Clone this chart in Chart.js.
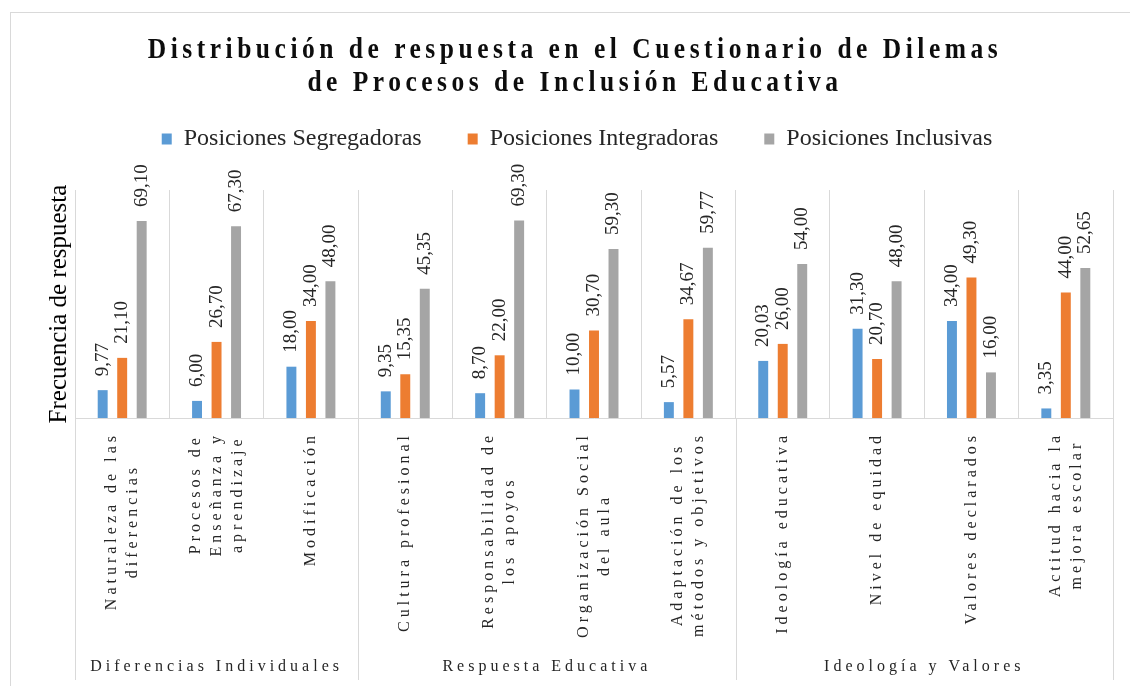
<!DOCTYPE html>
<html>
<head>
<meta charset="utf-8">
<script src="https://cdn.jsdelivr.net/npm/chart.js@4.4.1/dist/chart.umd.min.js"></script>
<style>
  html, body { margin: 0; padding: 0; background: #fff; }
</style>
</head>
<body>
<canvas id="grafico" width="1130" height="686"></canvas>
<script>
// Textos
const tituloLineas = ["Distribución de respuesta en el Cuestionario de Dilemas", "de Procesos de Inclusión Educativa"];
const tituloEjeY = "Frecuencia de respuesta";

// Categorías (una línea por elemento) y grupos del eje X
const categorias = [
  ["Naturaleza de las", "diferencias"],
  ["Procesos de", "Enseñanza y", "aprendizaje"],
  ["Modificación"],
  ["Cultura profesional"],
  ["Responsabilidad de", "los apoyos"],
  ["Organización Social", "del aula"],
  ["Adaptación de los", "métodos y objetivos"],
  ["Ideología educativa"],
  ["Nivel de equidad"],
  ["Valores declarados"],
  ["Actitud hacia la", "mejora escolar"]
];
const grupos = ["Diferencias Individuales", "Respuesta Educativa", "Ideología y Valores"];
const categoriasPorGrupo = [3, 4, 4];

// Series
const nombresSeries = ["Posiciones Segregadoras", "Posiciones Integradoras", "Posiciones Inclusivas"];
const segregadoras = [9.77, 6.00, 18.00, 9.35, 8.70, 10.00, 5.57, 20.03, 31.30, 34.00, 3.35];
const integradoras = [21.10, 26.70, 34.00, 15.35, 22.00, 30.70, 34.67, 26.00, 20.70, 49.30, 44.00];
const inclusivas = [69.10, 67.30, 48.00, 45.35, 69.30, 59.30, 59.77, 54.00, 48.00, 16.00, 52.65];
const colores = ["#5b9bd5", "#ed7d31", "#a5a5a5"];

const fuente = '"Liberation Serif", "Times New Roman", serif';
const gris = "#d9d9d9";

// Marco y fondo
const marco = {
  id: "marco",
  beforeDraw(chart) {
    const ctx = chart.ctx;
    ctx.save();
    ctx.fillStyle = "#fff";
    ctx.fillRect(0, 0, chart.width, chart.height);
    ctx.strokeStyle = gris;
    ctx.lineWidth = 1;
    ctx.strokeRect(10.5, 12.5, chart.width, chart.height);
    ctx.restore();
  }
};

// Título con espaciado entre letras
const titulo = {
  id: "titulo",
  afterDraw(chart) {
    const ctx = chart.ctx;
    ctx.save();
    ctx.fillStyle = "#0d0d0d";
    ctx.font = "bold 30px " + fuente;
    ctx.letterSpacing = "5.3px";
    ctx.textAlign = "center";
    ctx.textBaseline = "alphabetic";
    tituloLineas.forEach((linea, i) => {
      ctx.save();
      ctx.translate(575, 58 + i * 33);
      ctx.scale(0.85, 1);
      ctx.fillText(linea, 0, 0);
      ctx.restore();
    });
    ctx.restore();
  }
};

// Valores encima de cada barra (rotados)
const etiquetas = {
  id: "etiquetas",
  afterDatasetsDraw(chart) {
    const ctx = chart.ctx;
    ctx.save();
    ctx.fillStyle = "#262626";
    ctx.font = "19px " + fuente;
    ctx.textAlign = "left";
    ctx.textBaseline = "middle";
    chart.data.datasets.forEach((ds, d) => {
      chart.getDatasetMeta(d).data.forEach((barra, i) => {
        const texto = ds.data[i].toFixed(2).replace(".", ",");
        ctx.save();
        ctx.translate(barra.x, barra.y - 14);
        ctx.rotate(-Math.PI / 2);
        ctx.fillText(texto, 0, 0);
        ctx.restore();
      });
    });
    ctx.restore();
  }
};

// Etiquetas de categoría, grupos y divisores bajo el eje
const ejeCategorias = {
  id: "ejeCategorias",
  afterDraw(chart) {
    const { ctx, chartArea } = chart;
    const x = chart.scales.x;
    const ancho = x.width / categorias.length;
    ctx.save();
    ctx.fillStyle = "#262626";
    ctx.font = "16px " + fuente;
    ctx.letterSpacing = "4px";
    ctx.textAlign = "center";
    ctx.textBaseline = "middle";
    const inicio = chartArea.bottom + 14;
    categorias.forEach((lineas, i) => {
      const cx = x.getPixelForValue(i);
      const largo = Math.max(...lineas.map(l => ctx.measureText(l).width));
      lineas.forEach((l, k) => {
        ctx.save();
        ctx.translate(cx + (k - (lineas.length - 1) / 2) * 21, inicio + largo / 2);
        ctx.rotate(-Math.PI / 2);
        ctx.fillText(l, 0, 0);
        ctx.restore();
      });
    });

    const limites = [x.getPixelForValue(0) - ancho / 2];
    let idx = 0;
    grupos.forEach((g, j) => {
      const a = x.getPixelForValue(idx) - ancho / 2;
      idx += categoriasPorGrupo[j];
      const b = x.getPixelForValue(idx - 1) + ancho / 2;
      ctx.fillText(g, (a + b) / 2, 667);
      limites.push(b);
    });

    ctx.strokeStyle = gris;
    ctx.lineWidth = 1;
    limites.forEach(px => {
      const xx = Math.round(px) + 0.5;
      ctx.beginPath();
      ctx.moveTo(xx, chartArea.bottom);
      ctx.lineTo(xx, 680);
      ctx.stroke();
    });
    ctx.restore();
  }
};

// Espacio extra bajo la leyenda
const margenLeyenda = {
  id: "margenLeyenda",
  beforeLayout(chart) {
    const lg = chart.legend;
    if (lg && !lg._parcheado) {
      const fitOriginal = lg.fit;
      lg.fit = function () {
        fitOriginal.call(this);
        this.height += 29;
      };
      lg._parcheado = true;
    }
  }
};

const ctx = document.getElementById("grafico").getContext("2d");

new Chart(ctx, {
  type: "bar",
  data: {
    labels: categorias,
    datasets: nombresSeries.map((nombre, i) => ({
      label: nombre,
      data: [segregadoras, integradoras, inclusivas][i],
      backgroundColor: colores[i],
      borderWidth: 0,
      categoryPercentage: 0.62,
      barPercentage: 0.51
    }))
  },
  options: {
    responsive: false,
    animation: false,
    devicePixelRatio: 1,
    layout: { padding: { top: 81, left: 41, right: 17, bottom: 6 } },
    plugins: {
      legend: {
        position: "top",
        labels: {
          font: { family: fuente, size: 24 },
          color: "#262626",
          boxWidth: 10,
          boxHeight: 11,
          padding: 46
        }
      },
      tooltip: { enabled: false },
      title: { display: false }
    },
    scales: {
      x: {
        grid: { color: gris, drawTicks: false, offset: true },
        border: { color: gris },
        ticks: { display: false },
        afterFit: s => { s.height = 262; }
      },
      y: {
        min: 0,
        max: 80,
        grid: { display: false, drawTicks: false },
        border: { display: false },
        ticks: { display: false },
        title: {
          display: true,
          text: tituloEjeY,
          font: { family: fuente, size: 25 },
          color: "#000",
          padding: { top: 3, bottom: 4 }
        },
        afterFit: s => { s.width = 34; }
      }
    }
  },
  plugins: [marco, margenLeyenda, etiquetas, titulo, ejeCategorias]
});
</script>
</body>
</html>
